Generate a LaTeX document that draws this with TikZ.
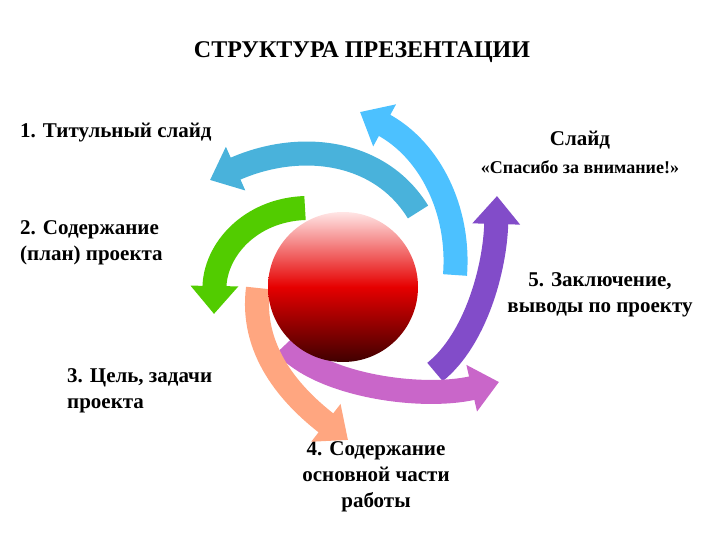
\documentclass[tikz,border=0pt]{standalone}
\usepackage{fontspec}
\setmainfont{Liberation Serif}
\usetikzlibrary{arrows.meta}
\begin{document}
\begin{tikzpicture}[x=1pt,y=-1pt,
  lbl/.style={font=\bfseries\fontsize{21}{26}\selectfont,align=left,inner sep=0},
  swirl/.style={line width=24pt,-{Triangle[width=46pt,length=28pt]}}]
\useasboundingbox (0,0) rectangle (720,540);
\node[font=\bfseries\fontsize{24}{28}\selectfont] (title) at (362,52) {СТРУКТУРА ПРЕЗЕНТАЦИИ};
\node[lbl,anchor=west] (l1) at (20,133) {1. Титульный слайд};
\node[lbl,align=center] (l6) at (580,152) {Слайд\\[2pt]{\fontsize{18}{22}\selectfont «Спасибо за внимание!»}};
\node[lbl,anchor=north west] (l2) at (20,220) {2. Содержание\\(план) проекта};
\node[lbl,anchor=north,align=center] (l5) at (600,272) {5. Заключение,\\выводы по проекту};
\node[lbl,anchor=north west] (l3) at (67,368) {3. Цель, задачи\\проекта};
\node[lbl,align=center,anchor=north] (l4) at (376,441) {4. Содержание\\основной части\\работы};
\coordinate (c1) at (418,212); \coordinate (h1) at (210,180);
\coordinate (c2) at (455,275); \coordinate (h2) at (360,112);
\coordinate (c3) at (435,372); \coordinate (h3) at (497,196);
\coordinate (c4) at (285,345); \coordinate (h4) at (499,382);
\coordinate (c5) at (258,288); \coordinate (h5) at (348,440);
\coordinate (c6) at (305,208); \coordinate (h6) at (214,314);
\draw[swirl,color=cyan!70!teal!80] (c1) .. controls (380,150) and (300,140) .. (h1);
\draw[swirl,color=blue!35!cyan!70] (c2) .. controls (460,210) and (430,150) .. (h2);
\draw[swirl,color=violet!60!blue!70] (c3) .. controls (475,340) and (495,270) .. (h3);
\draw[swirl,color=violet!70!magenta!60] (c4) .. controls (320,385) and (420,400) .. (h4);
\draw[swirl,color=orange!60!red!50] (c5) .. controls (250,350) and (290,395) .. (h5);
\draw[swirl,color=green!60!yellow!80!black] (c6) .. controls (250,210) and (215,250) .. (h6);
\shade[top color=red!10!white,bottom color=red!25!black,middle color=red!90!black]
  (343,287) circle (75);
\node[circle,minimum size=150pt,inner sep=0] (ball) at (343,287) {};
\end{tikzpicture}
\end{document}
